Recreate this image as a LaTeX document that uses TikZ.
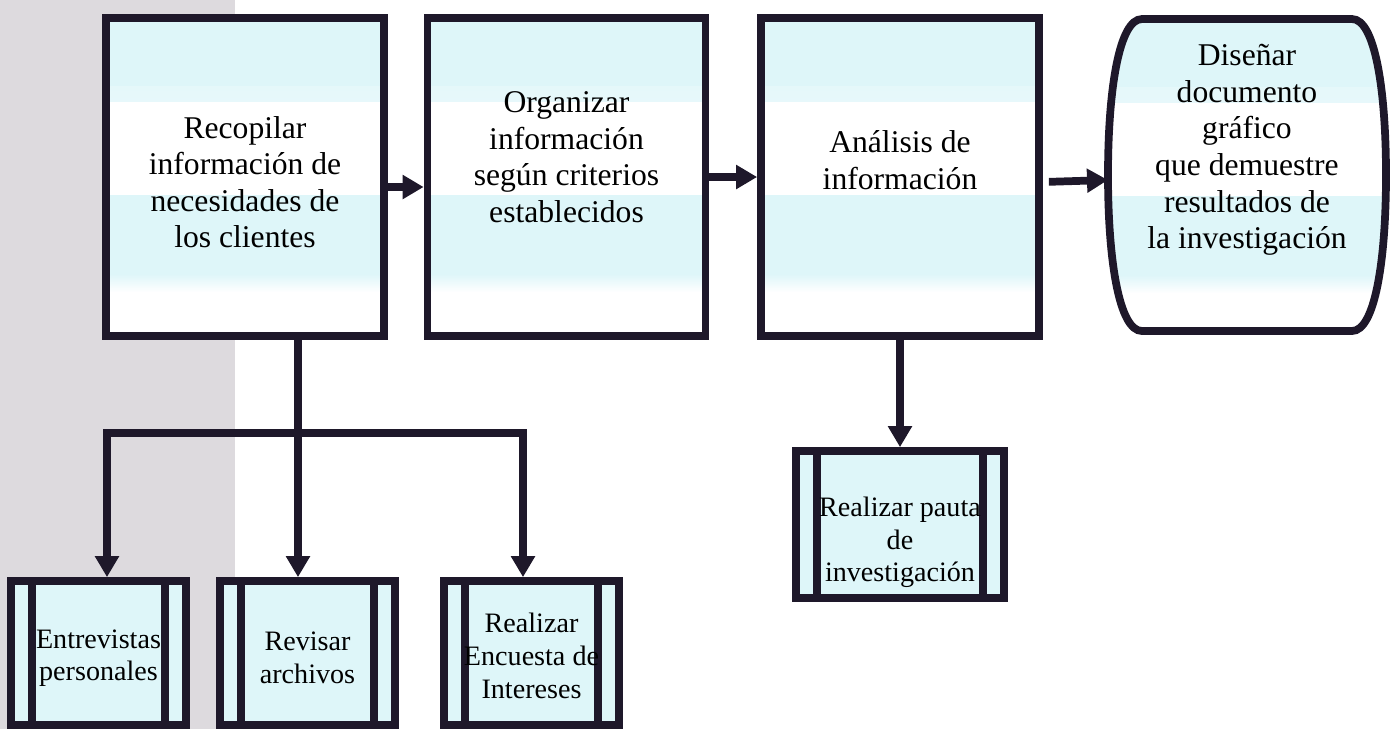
\documentclass[tikz,border=0pt]{standalone}
\usepackage{fontspec}
\setmainfont{Liberation Serif}
\usetikzlibrary{arrows.meta}

\definecolor{ink}{RGB}{30,24,42}
\definecolor{celeste}{RGB}{222,246,249}
\definecolor{fondo}{RGB}{221,218,222}

\begin{document}
\begin{tikzpicture}[line cap=butt, line join=miter]

    \useasboundingbox (0,0) rectangle (14,-7.29);
    \fill[fondo] (0,0) rectangle (2.35,-7.29);

    \tikzset{
      >={Triangle[width=0.23cm,length=0.21cm]},
      link/.style={ink, line width=2.2pt},
      % cyan fill with the two white bands of the top row
      bandas/.style={
        fill=celeste,
        path picture={
          \shade[top color=celeste, bottom color=white]
            ([yshift=-0.68cm]path picture bounding box.north west)
            rectangle ([yshift=-0.84cm]path picture bounding box.north east);
          \fill[white] ([yshift=-0.84cm]path picture bounding box.north west)
            rectangle ([yshift=-1.77cm]path picture bounding box.north east);
          \shade[top color=celeste, bottom color=white]
            ([yshift=-2.56cm]path picture bounding box.north west)
            rectangle ([yshift=-2.74cm]path picture bounding box.north east);
          \fill[white] ([yshift=-2.74cm]path picture bounding box.north west)
            rectangle (path picture bounding box.south east);
        }
      },
      mainbox/.style={
        draw=ink, line width=2.2pt, bandas,
        minimum width=2.78cm, minimum height=3.18cm, inner sep=0pt
      },
      subbox/.style={
        draw=ink, fill=celeste, line width=2.2pt,
        minimum width=1.75cm, minimum height=1.44cm, inner sep=0pt,
        path picture={
          \draw[link] ([xshift=0.21cm]path picture bounding box.north west)
            -- ([xshift=0.21cm]path picture bounding box.south west);
          \draw[link] ([xshift=-0.21cm]path picture bounding box.north east)
            -- ([xshift=-0.21cm]path picture bounding box.south east);
        }
      },
      maintxt/.style={align=center, inner sep=0pt, font=\fontsize{9}{10.4}\selectfont},
      subtxt/.style={align=center, inner sep=0pt, font=\fontsize{8}{9.3}\selectfont}
    }

    % top row
    \node[mainbox] (recopilar) at (2.45,-1.77) {};
    \node[maintxt] (recopilar-t) at ([yshift=-0.05cm]recopilar.center)
      {Recopilar\\información de\\necesidades de\\los clientes};

    \node[mainbox] (organizar) at (5.665,-1.77) {};
    \node[maintxt] (organizar-t) at ([yshift=0.2cm]organizar.center)
      {Organizar\\información\\según criterios\\establecidos};

    \node[mainbox] (analisis) at (9.00,-1.77) {};
    \node[maintxt] (analisis-t) at ([yshift=0.17cm]analisis.center)
      {Análisis de\\información};

    \node[minimum width=2.78cm, minimum height=3.12cm, inner sep=0pt, outer sep=0pt]
      (disenar) at (12.47,-1.75) {};
    \path[draw=ink, line width=2.2pt, bandas]
      ([xshift=0.34cm]disenar.north west) -- ([xshift=-0.34cm]disenar.north east)
      .. controls ([xshift=-0.11cm]disenar.north east) and ([yshift=0.85cm]disenar.east) .. (disenar.east)
      .. controls ([yshift=-0.85cm]disenar.east) and ([xshift=-0.11cm]disenar.south east) .. ([xshift=-0.34cm]disenar.south east)
      -- ([xshift=0.34cm]disenar.south west)
      .. controls ([xshift=0.11cm]disenar.south west) and ([yshift=-0.85cm]disenar.west) .. (disenar.west)
      .. controls ([yshift=0.85cm]disenar.west) and ([xshift=0.11cm]disenar.north west) .. ([xshift=0.34cm]disenar.north west)
      -- cycle;
    \node[maintxt] (disenar-t) at ([yshift=0.25cm]disenar.center)
      {Diseñar\\documento\\gráfico\\que demuestre\\resultados de\\la investigación};

    % sub-processes
    \node[subbox] (entrevistas) at (0.985,-6.53) {};
    \node[subtxt] (entrevistas-t) at ([yshift=-0.05cm]entrevistas.center)
      {Entrevistas\\personales};

    \node[subbox] (revisar) at (3.075,-6.53) {};
    \node[subtxt] (revisar-t) at ([yshift=-0.05cm]revisar.center)
      {Revisar\\archivos};

    \node[subbox] (encuesta) at (5.315,-6.53) {};
    \node[subtxt] (encuesta-t) at ([yshift=-0.03cm]encuesta.center)
      {Realizar\\Encuesta de\\Intereses};

    \node[subbox, minimum width=2.08cm, minimum height=1.47cm] (pauta) at (9.00,-5.245) {};
    \node[subtxt] (pauta-t) at ([yshift=-0.18cm]pauta.center)
      {Realizar pauta\\de\\investigación};

    % connectors
    \draw[link, ->] ([yshift=-0.1cm]recopilar.east) -- ([yshift=-0.1cm]organizar.west);
    \draw[link, ->] (organizar.east) -- (analisis.west);
    \draw[link, ->, shorten <=0.06cm] ([yshift=-0.05cm]analisis.east) -- ([yshift=-0.05cm]disenar.west);

    \coordinate (tronco) at ([xshift=0.53cm]recopilar.south);
    \coordinate (rama-izq) at (1.07,-4.33);
    \coordinate (rama-der) at (5.23,-4.33);
    \draw[link, ->] (tronco) -- (tronco |- revisar.north);
    \draw[link, <->] (rama-izq |- entrevistas.north) -- (rama-izq) -- (rama-der) -- (rama-der |- encuesta.north);

    \draw[link, ->] (analisis.south) -- (pauta.north);

\end{tikzpicture}
\end{document}
